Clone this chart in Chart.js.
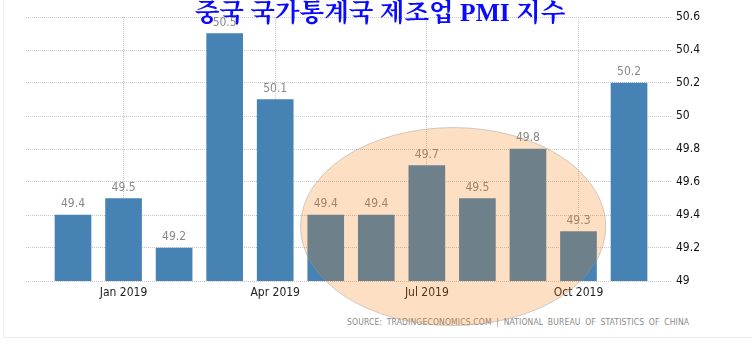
<!DOCTYPE html>
<html>
<head>
<meta charset="utf-8">
<script src="https://cdn.jsdelivr.net/npm/chart.js@4.4.1/dist/chart.umd.min.js"></script>
<style>
    html, body { margin: 0; padding: 0; background: #fff; }
    .wrap { position: relative; width: 752px; height: 354px; overflow: hidden; }
    .marco { position: absolute; left: 3px; top: -2px; width: 760px; height: 339px;
             border-left: 1px solid #eee; border-bottom: 1px solid #eee; }
    .fuente { position: absolute; left: 347px; top: 317px; font: 8.5px "DejaVu Sans Condensed", sans-serif;
              color: #8a8a8a; letter-spacing: 0.15px; white-space: nowrap; word-spacing: 2px; }
    canvas { position: absolute; left: 0; top: 0; }
    .titulo { position: absolute; left: 0; width: 760px; top: -8px; text-align: center;
              font: bold 25.5px "Liberation Serif", "Noto Serif CJK KR", "Noto Sans CJK KR", serif;
              color: #0a0aff; z-index: 2; white-space: nowrap; }
</style>
</head>
<body>
<div class="wrap">
    <div class="marco"></div>
    <div class="fuente">SOURCE: TRADINGECONOMICS.COM | NATIONAL BUREAU OF STATISTICS OF CHINA</div>
    <canvas id="graficoPmi" width="752" height="354"></canvas>
    <div class="titulo">중국 국가통계국 제조업 PMI 지수</div>
</div>
<script>
// Datos del PMI manufacturero (dic 2018 - nov 2019)
const meses = ['Dec 2018', 'Jan 2019', 'Feb 2019', 'Mar 2019', 'Apr 2019', 'May 2019',
               'Jun 2019', 'Jul 2019', 'Aug 2019', 'Sep 2019', 'Oct 2019', 'Nov 2019'];
const valores = [49.4, 49.5, 49.2, 50.5, 50.1, 49.4, 49.4, 49.7, 49.5, 49.8, 49.3, 50.2];
const etiquetasEje = ['Jan 2019', 'Apr 2019', 'Jul 2019', 'Oct 2019'];
const valoresEjeY = [49, 49.2, 49.4, 49.6, 49.8, 50, 50.2, 50.4, 50.6];

// Zona resaltada (en unidades de datos)
const resaltado = { centroX: 7.52, radioX: 3.02, centroY: 49.33, radioY: 0.6 };

const posTicks = etiquetasEje.map(e => meses.indexOf(e));

const etiquetasBarras = {
    id: 'etiquetasBarras',
    afterDatasetsDraw(chart) {
        const ctx = chart.ctx;
        const meta = chart.getDatasetMeta(0);
        ctx.save();
        ctx.font = '12px "DejaVu Sans Condensed", sans-serif';
        ctx.fillStyle = '#888';
        ctx.textAlign = 'center';
        ctx.textBaseline = 'alphabetic';
        meta.data.forEach((bar, i) => {
            ctx.fillText(valores[i].toFixed(1), bar.x, bar.y - 8);
        });
        ctx.restore();
    }
};

const elipse = {
    id: 'elipse',
    afterDraw(chart) {
        const { ctx, scales: { x, y } } = chart;
        const cx = x.getPixelForValue(resaltado.centroX);
        const rx = x.getPixelForValue(resaltado.centroX + resaltado.radioX) - cx;
        const cy = y.getPixelForValue(resaltado.centroY);
        const ry = cy - y.getPixelForValue(resaltado.centroY + resaltado.radioY);
        ctx.save();
        ctx.beginPath();
        ctx.ellipse(cx, cy, rx, ry, 0, 0, Math.PI * 2);
        ctx.fillStyle = 'rgba(246,120,0,0.23)';
        ctx.fill();
        ctx.strokeStyle = 'rgba(150,150,150,0.45)';
        ctx.lineWidth = 1;
        ctx.stroke();
        ctx.restore();
    }
};

new Chart(document.getElementById('graficoPmi'), {
    type: 'bar',
    data: {
        datasets: [{
            data: valores.map((v, i) => ({ x: i, y: v })),
            backgroundColor: '#4682b4',
            barThickness: 36
        }]
    },
    options: {
        responsive: false,
        devicePixelRatio: 1,
        animation: false,
        layout: { padding: { top: 17, left: 26, right: 0, bottom: 0 } },
        plugins: { legend: { display: false }, tooltip: { enabled: false } },
        scales: {
            x: {
                type: 'linear',
                offset: false,
                min: -0.93,
                max: 11.85,
                afterBuildTicks: axis => { axis.ticks = posTicks.map(v => ({ value: v })); },
                afterFit: axis => { axis.height = 73; },
                ticks: {
                    autoSkip: false,
                    maxRotation: 0,
                    padding: 5,
                    color: '#222',
                    font: { family: '"DejaVu Sans Condensed", sans-serif', size: 12 },
                    callback: v => meses[v]
                },
                grid: { color: '#c8c8c8', drawTicks: false, offset: false },
                border: { display: false, dash: [1, 1] }
            },
            y: {
                position: 'right',
                min: 49,
                max: 50.6,
                afterBuildTicks: axis => { axis.ticks = valoresEjeY.map(v => ({ value: v })); },
                afterFit: axis => { axis.width = 80; },
                ticks: {
                    padding: 4,
                    color: '#111',
                    font: { family: '"DejaVu Sans Condensed", sans-serif', size: 12 },
                    callback: v => String(+v.toFixed(1))
                },
                grid: { color: '#c8c8c8', drawTicks: false },
                border: { display: false, dash: [1, 1] }
            }
        }
    },
    plugins: [etiquetasBarras, elipse]
});
</script>
</body>
</html>
